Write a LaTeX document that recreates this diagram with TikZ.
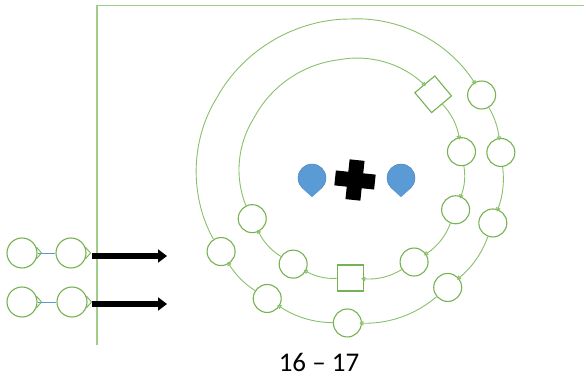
\documentclass[tikz,border=0pt]{standalone}
\usepackage{fontspec}
\setmainfont{Carlito}
\usetikzlibrary{arrows.meta,calc}

\definecolor{ringgreen}{RGB}{137,192,105}
\definecolor{nodegreen}{RGB}{118,178,82}
\definecolor{framegreen}{RGB}{160,205,135}
\definecolor{pinblue}{RGB}{91,155,213}
\definecolor{pinedge}{RGB}{70,125,180}

\tikzset{
  loopnode/.style={circle, draw=nodegreen, line width=1.1pt, fill=white, minimum size=28pt, inner sep=0pt},
  boxnode/.style={rectangle, draw=nodegreen, line width=1.1pt, fill=white, minimum size=26pt, inner sep=0pt},
  ringline/.style={draw=ringgreen, line width=0.9pt, looseness=0.9, shorten >=-2.5pt,
    -{Triangle[open,length=4pt,width=4.5pt]}},
  notch/.style={draw=nodegreen, line width=0.9pt},
  dropmark/.style={circle, fill=pinblue, draw=pinedge, line width=0.4pt, minimum size=28pt, inner sep=0pt},
  bigarrow/.style={line width=6pt, -{Triangle[length=9pt,width=13pt]}}
}

\begin{document}
\begin{tikzpicture}[x=1pt,y=1pt]
  \useasboundingbox (0,0) rectangle (584,383);

  % frame
  \draw[framegreen, line width=1.4pt] (97,38) |- (584,377.5);

  % ring centres
  \coordinate (O) at (350,212);
  \coordinate (I) at (352,213);

  % outer ring
  \node[loopnode] (o1) at ($(O)+(30:152)$) {};
  \node[loopnode] (o2) at ($(O)+(7:152)$) {};
  \node[loopnode] (o3) at ($(O)+(-20:152)$) {};
  \node[loopnode] (o4) at ($(O)+(-50:152)$) {};
  \node[loopnode] (o5) at ($(O)+(-91:152)$) {};
  \node[loopnode] (o6) at ($(O)+(-123:152)$) {};
  \node[loopnode] (o7) at ($(O)+(-148:152)$) {};
  \coordinate (oa) at ($(O)+(151:152)$);
  \coordinate (ob) at ($(O)+(90:152)$);

  \draw[ringline] (o1) to[bend left=11.5] (o2);
  \draw[ringline] (o2) to[bend left=13.5] (o3);
  \draw[ringline] (o3) to[bend left=15] (o4);
  \draw[ringline] (o4) to[bend left=20.5] (o5);
  \draw[ringline] (o5) to[bend left=16] (o6);
  \draw[ringline] (o6) to[bend left=12.5] (o7);
  \draw[ringline] (o7) to[bend left=30.5] (oa) to[bend left=30.5] (ob) to[bend left=30] (o1);

  % inner ring
  \node[boxnode, rotate=40] (i1) at ($(I)+(43:111)$) {};
  \node[loopnode] (i2) at ($(I)+(9.5:111)$) {};
  \node[loopnode] (i3) at ($(I)+(-21:111)$) {};
  \node[loopnode] (i4) at ($(I)+(-56:111)$) {};
  \node[boxnode] (i5) at ($(I)+(-91:108)$) {};
  \node[loopnode] (i6) at ($(I)+(-122:111)$) {};
  \node[loopnode] (i7) at ($(I)+(-154:111)$) {};
  \coordinate (ia) at ($(I)+(152:111)$);
  \coordinate (ib) at ($(I)+(97:111)$);

  \draw[ringline] (i1) to[bend left=16.75] (i2);
  \draw[ringline] (i2) to[bend left=15.25] (i3);
  \draw[ringline] (i3) to[bend left=17.5] (i4);
  \draw[ringline] (i4) to[bend left=17.5] (i5);
  \draw[ringline] (i5) to[bend left=15.5] (i6);
  \draw[ringline] (i6) to[bend left=16] (i7);
  \draw[ringline] (i7) to[bend left=27] (ia) to[bend left=27.5] (ib) to[bend left=27] (i1);

  % centre: two drops and a plus
  \node[dropmark] (lpin) at (312,205) {};
  \node[dropmark] (rpin) at (401,205) {};
  \fill[pinblue] (lpin.-132) -- ([yshift=-5pt]lpin.south) -- (lpin.-48) -- cycle;
  \fill[pinblue] (rpin.-132) -- ([yshift=-5pt]rpin.south) -- (rpin.-48) -- cycle;
  \begin{scope}[shift={(355,203)}, rotate=-6]
    \fill (-20,-7.5) rectangle (20,7.5);
    \fill (-7.5,-20) rectangle (7.5,20);
  \end{scope}

  % left pairs
  \node[loopnode, minimum size=30pt] (p11) at (22,130) {};
  \node[loopnode, minimum size=30pt] (p12) at (71,130) {};
  \node[loopnode, minimum size=30pt] (p21) at (22,81) {};
  \node[loopnode, minimum size=30pt] (p22) at (72,81) {};
  \draw[pinblue, line width=0.8pt] (p11) -- (p12);
  \draw[pinblue, line width=0.8pt] (p21) -- (p22);
  \foreach \p in {p11,p12,p21,p22}
    \draw[notch] (\p.22) -- ([xshift=4pt]\p.east) -- (\p.-22);

  % arrows
  \coordinate (a1s) at (92,127);
  \coordinate (a1e) at (167,127);
  \coordinate (a2s) at (92,79);
  \coordinate (a2e) at (167,79);
  \draw[bigarrow] (a1s) -- (a1e);
  \draw[bigarrow] (a2s) -- (a2e);

  % page numbers
  \node (pages) at (319,21) {\fontsize{27}{30}\selectfont 16 -- 17};
\end{tikzpicture}
\end{document}
